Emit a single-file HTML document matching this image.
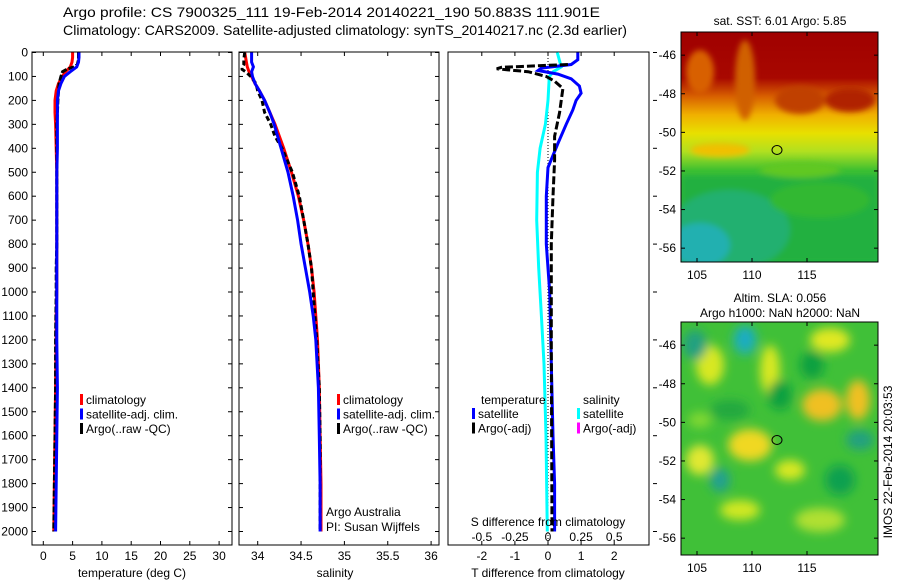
<!DOCTYPE html>
<html><head><meta charset="utf-8"><style>
body{margin:0;background:#fff;}
svg{display:block;font-family:"Liberation Sans",sans-serif;}
</style></head><body>
<svg id="c" width="900" height="580" viewBox="0 0 900 580">
<defs>
<filter id="bl" x="-50%" y="-50%" width="200%" height="200%"><feGaussianBlur stdDeviation="5"/></filter>
<filter id="bl2" x="-50%" y="-50%" width="200%" height="200%"><feGaussianBlur stdDeviation="3"/></filter>
<clipPath id="cm1"><rect x="681" y="32" width="197" height="230"/></clipPath>
<clipPath id="cm2"><rect x="681" y="322" width="197" height="233"/></clipPath>
<linearGradient id="sstg" x1="0" y1="0" x2="0" y2="1">
<stop offset="0" stop-color="#a00000"/><stop offset="0.2" stop-color="#a80800"/>
<stop offset="0.28" stop-color="#d86000"/><stop offset="0.36" stop-color="#f0b000"/>
<stop offset="0.44" stop-color="#e8e000"/><stop offset="0.52" stop-color="#b0e020"/>
<stop offset="0.6" stop-color="#40c030"/><stop offset="1" stop-color="#20b840"/>
</linearGradient>
</defs>
<text x="63" y="17" font-size="14" textLength="537" lengthAdjust="spacingAndGlyphs">Argo profile: CS 7900325_111 19-Feb-2014 20140221_190 50.883S 111.901E</text>
<text x="63" y="35" font-size="14" textLength="564" lengthAdjust="spacingAndGlyphs">Climatology: CARS2009. Satellite-adjusted climatology: synTS_20140217.nc (2.3d earlier)</text>
<g id="p1"></g>
<g id="p2"></g>
<g id="p3"></g>

<g>
<g clip-path="url(#cm1)">
<rect x="681" y="32" width="197" height="230" fill="url(#sstg)"/>
<g filter="url(#bl2)">
<ellipse cx="700" cy="72" rx="14" ry="22" fill="#d86000"/>
<ellipse cx="745" cy="80" rx="10" ry="40" fill="#d06000"/>
<ellipse cx="800" cy="100" rx="25" ry="14" fill="#c04000"/>
<ellipse cx="850" cy="100" rx="25" ry="12" fill="#b02000"/>
<ellipse cx="720" cy="150" rx="30" ry="7" fill="#f0c000"/>
<rect x="681" y="175" width="197" height="87" fill="#20b040"/>
<ellipse cx="730" cy="230" rx="60" ry="40" fill="#20b070"/>
<ellipse cx="700" cy="245" rx="30" ry="22" fill="#20b0b0"/>
<ellipse cx="820" cy="200" rx="50" ry="18" fill="#30b830"/>
<ellipse cx="800" cy="170" rx="40" ry="8" fill="#60c820"/>
</g>
</g>
<rect x="681" y="32" width="197" height="230" fill="none" stroke="#000"/>
<ellipse cx="777" cy="150" rx="5" ry="4.5" fill="none" stroke="#000"/>
<text x="780" y="25" font-size="12" text-anchor="middle">sat. SST: 6.01  Argo: 5.85</text>
</g>
<g>
<g clip-path="url(#cm2)">
<rect x="681" y="322" width="197" height="233" fill="#40c038"/>
<g filter="url(#bl)">
<ellipse cx="710" cy="365" rx="14" ry="20" fill="#d8e820"/>
<ellipse cx="770" cy="370" rx="10" ry="25" fill="#d8e820"/>
<ellipse cx="745" cy="340" rx="12" ry="15" fill="#20b0b0"/>
<ellipse cx="745" cy="338" rx="5" ry="6" fill="#10a8d0"/>
<ellipse cx="830" cy="340" rx="20" ry="12" fill="#e0e820"/>
<ellipse cx="822" cy="405" rx="20" ry="16" fill="#f0c020"/>
<ellipse cx="858" cy="400" rx="12" ry="20" fill="#f0c020"/>
<ellipse cx="750" cy="445" rx="22" ry="16" fill="#f0d820"/>
<ellipse cx="700" cy="460" rx="14" ry="15" fill="#e0e830"/>
<ellipse cx="720" cy="480" rx="10" ry="12" fill="#20a090"/>
<ellipse cx="790" cy="470" rx="15" ry="10" fill="#d8e820"/>
<ellipse cx="740" cy="510" rx="20" ry="10" fill="#d0e820"/>
<ellipse cx="820" cy="520" rx="25" ry="12" fill="#b0e030"/>
<ellipse cx="695" cy="345" rx="12" ry="15" fill="#20a080"/>
<ellipse cx="812" cy="365" rx="12" ry="14" fill="#10a040"/>
<ellipse cx="860" cy="440" rx="14" ry="10" fill="#20a080"/>
<ellipse cx="780" cy="395" rx="12" ry="15" fill="#10a040"/>
<ellipse cx="730" cy="410" rx="20" ry="10" fill="#20a840"/>
<ellipse cx="840" cy="480" rx="15" ry="15" fill="#10a050"/>
<ellipse cx="700" cy="420" rx="12" ry="8" fill="#80d830"/>
</g>
</g>
<rect x="681" y="322" width="197" height="233" fill="none" stroke="#000"/>
<ellipse cx="777" cy="440" rx="5" ry="4.5" fill="none" stroke="#000"/>
<text x="780" y="302" font-size="12" text-anchor="middle">Altim. SLA: 0.056</text>
<text x="780" y="317" font-size="12" text-anchor="middle">Argo h1000: NaN h2000: NaN</text>
</g>
<text transform="translate(892,462) rotate(-90)" font-size="12" text-anchor="middle">IMOS 22-Feb-2014 20:03:53</text>
</svg>
<script>
// ---- data ----
var depthTicks=[0,100,200,300,400,500,600,700,800,900,1000,1100,1200,1300,1400,1500,1600,1700,1800,1900,2000];
var tempTicks=[0,5,10,15,20,25,30];
var salTicks=[34,34.5,35,35.5,36];
var tdiffTicks=[-2,-1,0,1,2];
var sdiffTicks=[-0.5,-0.25,0,0.25,0.5];
var sdiffTickLabels=["-0.5","-0.25","0","0.25","0.5"];
var latTicks=[-46,-48,-50,-52,-54,-56];
var lonTicks=[105,110,115];

var climDepth=[0,20,40,60,80,100,130,160,200,250,300,400,500,600,700,800,900,1000,1100,1200,1400,1600,1800,2000];
var climTemp=[5.0,5.0,4.9,4.6,3.8,3.2,2.6,2.2,2.0,2.0,2.1,2.2,2.3,2.3,2.3,2.3,2.3,2.3,2.2,2.2,2.1,2.0,1.9,1.8];
var satTemp=[6.1,6.1,6.0,5.7,4.6,3.6,3.0,2.6,2.4,2.4,2.4,2.4,2.3,2.3,2.3,2.3,2.3,2.3,2.3,2.3,2.4,2.3,2.2,2.1];
var climSal=[33.85,33.86,33.87,33.88,33.90,33.93,33.97,34.02,34.08,34.14,34.2,34.3,34.39,34.47,34.53,34.58,34.62,34.65,34.67,34.69,34.71,34.72,34.73,34.73];
var satSal=[33.93,33.93,33.93,33.95,33.93,33.94,33.97,34.02,34.08,34.14,34.19,34.27,34.35,34.41,34.46,34.50,34.55,34.6,34.64,34.67,34.70,34.71,34.72,34.72];
var argoDepth=[0,30,50,60,70,80,100,130,160,200,250,300,350,400,500,600,700,800,900,1000,1200,1400,1600,1800,2000];
var argoTemp=[6.0,6.0,5.8,5.2,4.0,3.3,3.0,2.7,2.6,2.5,2.4,2.3,2.3,2.3,2.3,2.3,2.3,2.3,2.2,2.2,2.1,2.1,2.0,1.9,1.8];
var argoSal=[33.85,33.84,33.84,33.82,33.82,33.86,33.92,33.98,34.0,34.05,34.08,34.15,34.2,34.28,34.4,34.48,34.53,34.58,34.62,34.64,34.68,34.71,34.72,34.72,34.72];

var dDepth=[0,30,50,65,75,90,110,140,170,200,240,300,380,480,600,800,1000,1300,1600,1800,2000];
var satTdiff=[0.9,0.9,0.7,-0.2,-0.3,0.3,0.7,0.95,1.0,0.85,0.75,0.55,0.3,0.0,-0.05,-0.05,0.05,0.1,0.15,0.2,0.2];
var sDepth=[0,40,60,80,100,200,300,400,500,700,900,1100,1300,1600,2000];
var satSdiff=[0.07,0.09,0.1,0.04,0.01,0,-0.02,-0.06,-0.08,-0.085,-0.07,-0.05,-0.03,-0.015,-0.005];
var aDepth=[50,62,68,80,100,120,150,250,350,450,600,800,1200,2000];
var argoTdiff=[0.6,-1.4,-1.55,-0.6,-0.05,0.2,0.45,0.35,0.2,0.2,0.15,0.1,0.1,0.12];

// ---- helpers ----
var NS="http://www.w3.org/2000/svg";
function mk(par,tag,at){var e=document.createElementNS(NS,tag);for(var k in at)e.setAttribute(k,at[k]);par.appendChild(e);return e;}
function yD(d){return 52.5+d*0.2395;}
var TOP=52,BOT=545;
function xT(t){return 43.3+t*5.86;}
function xS(s){return 257.7+(s-34)*86.7;}
function xTd(t){return 548+t*33.1;}
function xSd(s){return 548+s*4*33.1;}
function txt(par,x,y,s,anchor,size){var t=mk(par,'text',{x:x,y:y,'font-size':size||12,'text-anchor':anchor||'start'});t.textContent=s;return t;}
function line(par,xs,ys,col,w,dash){var p='';for(var i=0;i<xs.length;i++)p+=(i?'L':'M')+xs[i].toFixed(1)+' '+ys[i].toFixed(1);var e=mk(par,'path',{d:p,fill:'none',stroke:col,'stroke-width':w});if(dash)e.setAttribute('stroke-dasharray',dash);return e;}
function frame(g,x0,x1){mk(g,'rect',{x:x0,y:TOP,width:x1-x0,height:BOT-TOP,fill:'none',stroke:'#000'});
 for(var i=0;i<depthTicks.length;i++){var y=yD(depthTicks[i]);mk(g,'line',{x1:x0,x2:x0+4,y1:y,y2:y,stroke:'#000'});mk(g,'line',{x1:x1-4,x2:x1,y1:y,y2:y,stroke:'#000'});}}
function legend(g,x,y,cols,labels){for(var i=0;i<cols.length;i++){mk(g,'rect',{x:x,y:y+i*14.5-10,width:3,height:11,fill:cols[i]});txt(g,x+6,y+i*14.5,labels[i]);}}

var p1=document.getElementById('p1'),p2=document.getElementById('p2'),p3=document.getElementById('p3');
// panel 1
frame(p1,32,232);
for(var i=0;i<depthTicks.length;i++){var t=txt(p1,28,yD(depthTicks[i])+4,String(depthTicks[i]),'end');

}
for(var i=0;i<tempTicks.length;i++){var x=xT(tempTicks[i]);mk(p1,'line',{x1:x,x2:x,y1:BOT-4,y2:BOT,stroke:'#000'});mk(p1,'line',{x1:x,x2:x,y1:TOP,y2:TOP+4,stroke:'#000'});txt(p1,x,560,String(tempTicks[i]),'middle');}
var e;
e=line(p1,climTemp.map(xT),climDepth.map(yD),'#f00',3);


e=line(p1,argoTemp.map(xT),argoDepth.map(yD),'#000',3,'6 2');


e=line(p1,satTemp.map(xT),climDepth.map(yD),'#00f',3);


legend(p1,80,404,['#f00','#00f','#000'],['climatology','satellite-adj. clim.','Argo(..raw -QC)']);
t=txt(p1,132,577,'temperature (deg C)','middle');



// panel 2
frame(p2,239,439);
for(var i=0;i<salTicks.length;i++){var x=xS(salTicks[i]);mk(p2,'line',{x1:x,x2:x,y1:BOT-4,y2:BOT,stroke:'#000'});mk(p2,'line',{x1:x,x2:x,y1:TOP,y2:TOP+4,stroke:'#000'});txt(p2,x,560,String(salTicks[i]),'middle');}
e=line(p2,climSal.map(xS),climDepth.map(yD),'#f00',3);


e=line(p2,argoSal.map(xS),argoDepth.map(yD),'#000',3,'5 3');


e=line(p2,satSal.map(xS),climDepth.map(yD),'#00f',3);


legend(p2,337,404,['#f00','#00f','#000'],['climatology','satellite-adj. clim.','Argo(..raw -QC)']);
txt(p2,326,516,'Argo Australia');txt(p2,326,531,'PI: Susan Wijffels');
t=txt(p2,335,577,'salinity','middle');



// panel 3
mk(p3,'rect',{x:448,y:TOP,width:201,height:BOT-TOP,fill:'none',stroke:'#000'});
for(var i=0;i<depthTicks.length;i+=2){var y=yD(depthTicks[i]);mk(p3,'line',{x1:653,x2:657,y1:y,y2:y,stroke:'#000'});}
for(var i=0;i<tdiffTicks.length;i++){var x=xTd(tdiffTicks[i]);mk(p3,'line',{x1:x,x2:x,y1:BOT-4,y2:BOT,stroke:'#000'});mk(p3,'line',{x1:x,x2:x,y1:TOP,y2:TOP+4,stroke:'#000'});txt(p3,x,560,String(tdiffTicks[i]),'middle');}
for(var i=0;i<sdiffTicks.length;i++){txt(p3,xSd(sdiffTicks[i]),541,sdiffTickLabels[i],'middle');}
mk(p3,'line',{x1:xTd(0),x2:xTd(0),y1:TOP,y2:BOT,stroke:'#000','stroke-dasharray':'1 2'});
e=line(p3,satSdiff.map(xSd),sDepth.map(yD),'#0ff',3);


e=line(p3,satTdiff.map(xTd),dDepth.map(yD),'#00f',3);


e=line(p3,argoTdiff.map(xTd),aDepth.map(yD),'#000',3,'8 3');


txt(p3,481,404,'temperature');txt(p3,583,404,'salinity');
legend(p3,472,418,['#00f','#000'],['satellite','Argo(-adj)']);
legend(p3,577,418,['#0ff','#f0f'],['satellite','Argo(-adj)']);
txt(p3,548,526,'S difference from climatology','middle');
t=txt(p3,548,577,'T difference from climatology','middle');



// maps
var svg=document.getElementById('c');
function mapAxes(top,bot,latTop){
 for(var i=0;i<latTicks.length;i++){var y=top+(latTop-latTicks[i])*19.3;mk(svg,'line',{x1:681,x2:685,y1:y,y2:y,stroke:'#000'});mk(svg,'line',{x1:874,x2:878,y1:y,y2:y,stroke:'#000'});txt(svg,676,y+4,String(latTicks[i]),'end');}
 for(var i=0;i<lonTicks.length;i++){var x=697+(lonTicks[i]-105)*11;mk(svg,'line',{x1:x,x2:x,y1:bot-4,y2:bot,stroke:'#000'});mk(svg,'line',{x1:x,x2:x,y1:top,y2:top+4,stroke:'#000'});txt(svg,x,bot+17,String(lonTicks[i]),'middle');}
}
mapAxes(32,262,-44.8);
mapAxes(322,555,-44.8);
</script>
</body></html>
